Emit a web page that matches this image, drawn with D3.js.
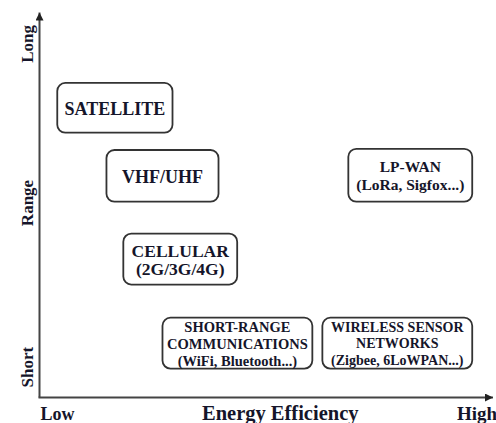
<!DOCTYPE html>
<html>
<head>
<meta charset="utf-8">
<script src="https://cdn.jsdelivr.net/npm/d3@7"></script>
<style>
  html, body { margin: 0; padding: 0; background: #fff; }
  svg { display: block; }
</style>
</head>
<body>
<svg id="chart" width="496" height="423"></svg>
<script>
// ---- data (energy efficiency on x, range on y, both 0..100) ----
const labels = [
  ["SATELLITE"],
  ["VHF/UHF"],
  ["LP-WAN", "(LoRa, Sigfox...)"],
  ["CELLULAR", "(2G/3G/4G)"],
  ["SHORT-RANGE", "COMMUNICATIONS", "(WiFi, Bluetooth...)"],
  ["WIRELESS SENSOR", "NETWORKS", "(Zigbee, 6LoWPAN...)"]
];
const effLow   = [3.9, 14.7, 67.8, 18.4, 27.0, 62.1];
const effHigh  = [29.2, 39.3, 95.0, 43.4, 59.9, 95.0];
const rangeLow = [68.7, 50.8, 50.8, 29.3, 7.5, 7.5];
const rangeHigh= [81.6, 64.2, 64.5, 42.5, 20.7, 20.7];
const xTickLabels = ["Low", "Energy Efficiency", "High"];
const yTickLabels = ["Short", "Range", "Long"];
const xTickPos = [0, 50, 100];
const yTickPos = [0, 50, 100];

const fontSizes = [18, 18, 15.5, 17.5, 14.5, 14];
const lineGaps  = [17, 17, 18, 18.5, 17, 16.5];

const svg = d3.select("#chart");
const x = d3.scaleLinear().domain([0, 100]).range([39.5, 495]);
const y = d3.scaleLinear().domain([0, 100]).range([397.5, 12]);
const font = "'Liberation Serif', 'Times New Roman', serif";
const ink = "#15152a";

// axes
svg.append("defs").append("marker")
  .attr("id", "arrow").attr("viewBox", "0 0 10 10")
  .attr("refX", 10).attr("refY", 5)
  .attr("markerWidth", 8).attr("markerHeight", 8)
  .attr("markerUnits", "userSpaceOnUse")
  .attr("orient", "auto")
  .append("path").attr("d", "M0,0 L10,5 L0,10 Z").attr("fill", "#222");

svg.append("line")
  .attr("x1", x(0)).attr("y1", y(0)).attr("x2", x(0)).attr("y2", y(100) + 0.5)
  .attr("stroke", "#444").attr("stroke-width", 2).attr("marker-end", "url(#arrow)");
svg.append("line")
  .attr("x1", x(0) - 1).attr("y1", y(0)).attr("x2", 493).attr("y2", y(0))
  .attr("stroke", "#444").attr("stroke-width", 2).attr("marker-end", "url(#arrow)");

// boxes
const data = labels.map((l, i) => ({
  lines: l, x0: effLow[i], x1: effHigh[i], y0: rangeLow[i], y1: rangeHigh[i],
  fs: fontSizes[i], gap: lineGaps[i]
}));

const g = svg.selectAll("g.box").data(data).join("g").attr("class", "box");
g.append("rect")
  .attr("x", d => x(d.x0)).attr("y", d => y(d.y1))
  .attr("width", d => x(d.x1) - x(d.x0)).attr("height", d => y(d.y0) - y(d.y1))
  .attr("rx", 8).attr("ry", 8)
  .attr("fill", "#fff").attr("stroke", "#333").attr("stroke-width", 1.8);
g.each(function(d) {
  const cx = (x(d.x0) + x(d.x1)) / 2;
  const cy = (y(d.y0) + y(d.y1)) / 2;
  const n = d.lines.length;
  d3.select(this).selectAll("text").data(d.lines).join("text")
    .attr("x", cx)
    .attr("y", (t, j) => cy + (j - (n - 1) / 2) * d.gap)
    .attr("dy", "0.38em")
    .attr("text-anchor", "middle")
    .attr("font-family", font).attr("font-weight", "bold")
    .attr("font-size", d.fs).attr("fill", ink)
    .text(t => t);
});

// x tick labels
const xAnchors = ["start", "middle", "end"];
const xSizes = [18, 20.5, 19];
svg.selectAll("text.xl").data(xTickLabels).join("text")
  .attr("class", "xl")
  .attr("x", (t, i) => i === 0 ? x(xTickPos[i]) + 1 : i === 2 ? 497 : x(xTickPos[i]) + 13)
  .attr("y", 420)
  .attr("text-anchor", (t, i) => xAnchors[i])
  .attr("font-family", font).attr("font-weight", "bold")
  .attr("font-size", (t, i) => xSizes[i]).attr("fill", ink)
  .text(t => t);

// y tick labels (rotated)
const yAnchors = ["start", "middle", "end"];
svg.selectAll("text.yl").data(yTickLabels).join("text")
  .attr("class", "yl")
  .attr("transform", (t, i) => {
    const py = i === 0 ? y(yTickPos[i]) - 10 : i === 2 ? 25 : 203;
    return `translate(33,${py}) rotate(-90)`;
  })
  .attr("text-anchor", (t, i) => yAnchors[i])
  .attr("font-family", font).attr("font-weight", "bold")
  .attr("font-size", 17).attr("fill", ink)
  .text(t => t);
</script>
</body>
</html>
